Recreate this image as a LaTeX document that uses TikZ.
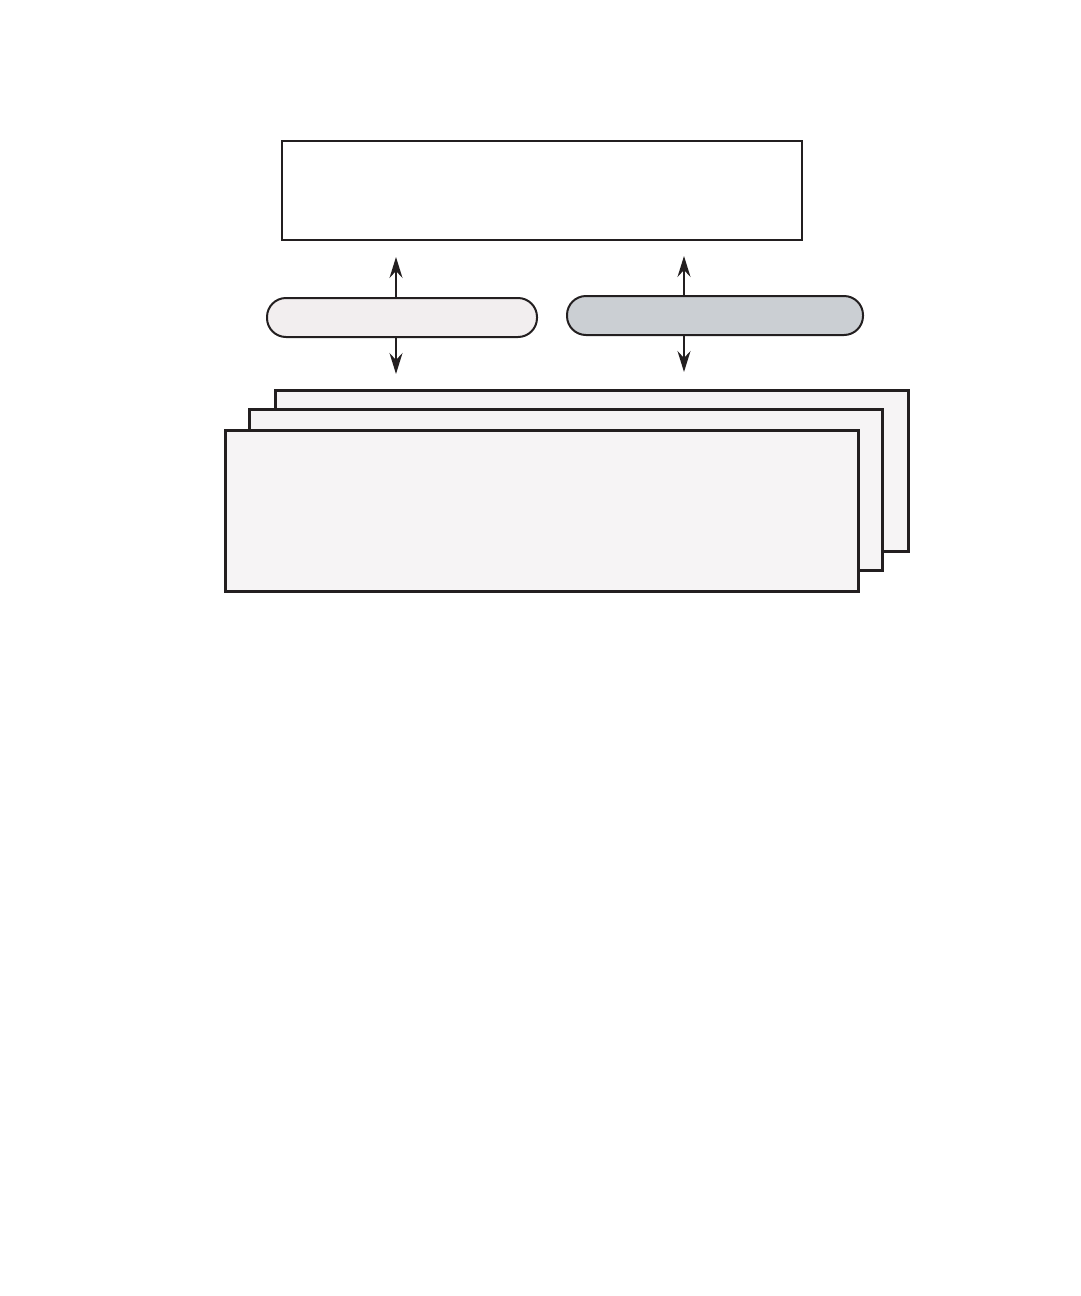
\documentclass[tikz,border=0pt]{standalone}
\usetikzlibrary{arrows.meta}
\definecolor{pillpale}{HTML}{F2EEEF}
\definecolor{pillgrey}{HTML}{CBCFD3}
\definecolor{sheet}{HTML}{F6F4F5}
\definecolor{ink}{HTML}{231F20}
\begin{document}
\begin{tikzpicture}[x=1pt,y=-1pt,
topbox/.style={rectangle, draw=ink, line width=2pt, fill=white, anchor=north west, inner sep=0pt, minimum width=520pt, minimum height=99pt},
pillbox/.style={rectangle, rounded corners=19pt, draw=ink, line width=2pt, anchor=north west, inner sep=0pt, minimum height=39pt},
sheetbox/.style={rectangle, draw=ink, line width=2.6pt, fill=sheet, anchor=north west, inner sep=0pt, minimum width=633pt, minimum height=161pt},
arr/.style={draw=ink, line width=1.5pt, -{Stealth[length=21pt,width=13pt,inset=7pt]}}
]
\useasboundingbox (0,0) rectangle (1080,1296);
%Nodes
\node[topbox] (host) at (281,140) {};
\node[pillbox, fill=pillpale, minimum width=270pt] (lpill) at (266,297) {};
\node[pillbox, fill=pillgrey, minimum width=296pt] (rpill) at (566,295) {};
\node[sheetbox] (back) at (274,389) {};
\node[sheetbox] (mid) at (248,408) {};
\node[sheetbox] (front) at (224,429) {};
%Arrow ends
\coordinate (lup) at (396,257);
\coordinate (ldown) at (396,374);
\coordinate (rup) at (684,256);
\coordinate (rdown) at (684,372);
%Lines
\draw[arr] (lup |- lpill.north) -- (lup);
\draw[arr] (ldown |- lpill.south) -- (ldown);
\draw[arr] (rup |- rpill.north) -- (rup);
\draw[arr] (rdown |- rpill.south) -- (rdown);
\end{tikzpicture}
\end{document}
